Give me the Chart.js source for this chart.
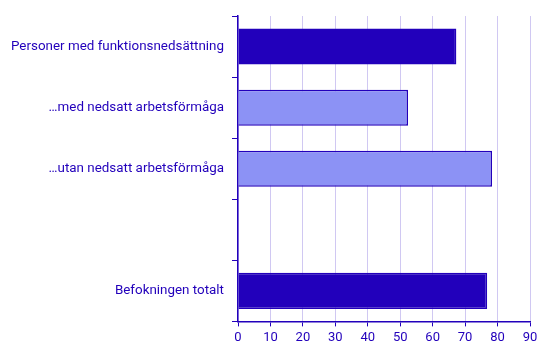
<!DOCTYPE html>
<html><head><meta charset="utf-8">
<script src="https://cdn.jsdelivr.net/npm/chart.js@4/dist/chart.umd.min.js"></script>
<style>html,body{margin:0;padding:0;background:#fff}#w{width:553px;height:355px}</style>
</head><body><div id="w"><canvas id="c"></canvas></div>
<script>
const categories = ["Personer med funktionsnedsättning", "…med nedsatt arbetsförmåga", "…utan nedsatt arbetsförmåga", "", "Befokningen totalt"];
const values = [67.3, 52.4, 78.3, null, 76.8];
const xTicks = [0, 10, 20, 30, 40, 50, 60, 70, 80, 90];
const dark = '#2200bb', light = '#8c92f5', grid = '#d0c8f2';
const fills = [dark, light, light, light, dark];
Chart.defaults.font.family = 'Roboto';
Chart.defaults.font.size = 13;
new Chart(document.getElementById('c'), {
  type: 'bar',
  data: { labels: categories, datasets: [{ data: values, backgroundColor: fills, borderColor: dark, borderWidth: 1.5, categoryPercentage: 1, barPercentage: 0.59 }] },
  options: {
    indexAxis: 'y', responsive: true, maintainAspectRatio: false, animation: false,
    layout: { padding: { left: 0, right: 23, top: 14, bottom: 5 } },
    plugins: { legend: { display: false }, tooltip: { enabled: false } },
    scales: {
      x: { min: 0, max: 90, afterBuildTicks: s => { s.ticks = xTicks.map(v => ({ value: v })); },
        grid: { color: grid, lineWidth: 1, tickColor: dark, tickLength: 5, drawTicks: true },
        border: { color: dark, width: 1.5 },
        ticks: { color: dark, padding: 4, font: { size: 13 } } },
      y: { offset: true, grid: { offset: true, drawOnChartArea: false, color: dark, tickColor: dark, tickLength: 6 },
        border: { color: dark, width: 1.5 },
        ticks: { color: dark, padding: 8, font: { size: 13.4 } },
        afterFit: s => { s.width = 238; } }
    }
  }
});
</script></body></html>
